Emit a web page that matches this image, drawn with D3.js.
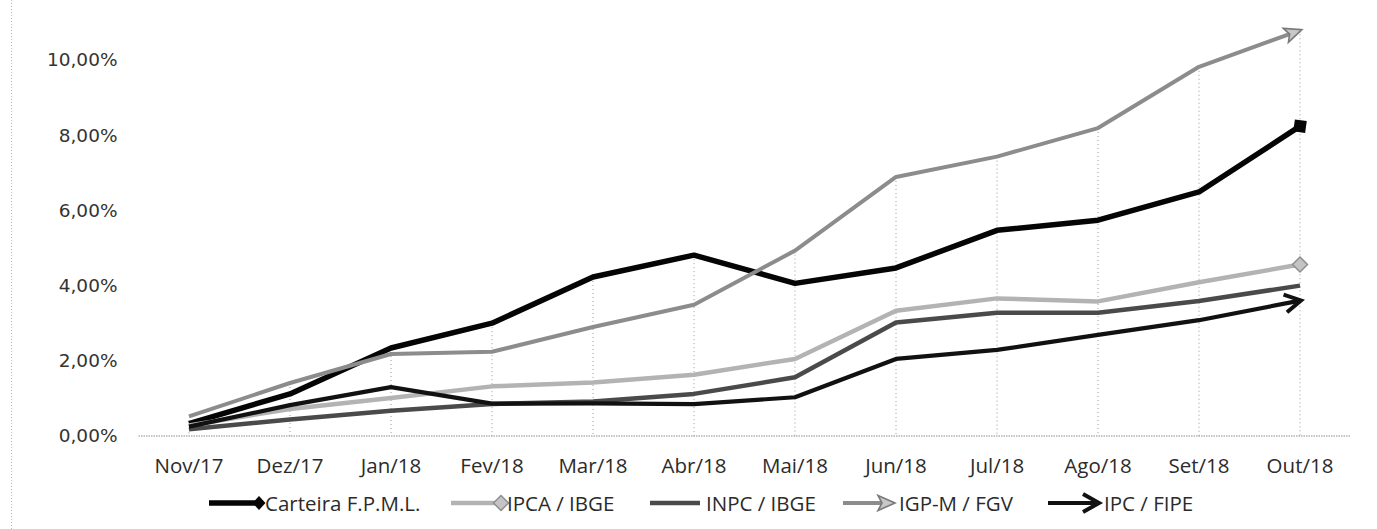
<!DOCTYPE html>
<html>
<head>
<meta charset="utf-8">
<script src="https://cdn.jsdelivr.net/npm/d3@7"></script>
<style>
  html, body { margin: 0; padding: 0; background: #fff; }
  svg { display: block; }
</style>
</head>
<body>
<svg id="chart" width="1377" height="529"></svg>
<script>
// ---- Data (cumulative %) ----
const categories = ["Nov/17","Dez/17","Jan/18","Fev/18","Mar/18","Abr/18","Mai/18","Jun/18","Jul/18","Ago/18","Set/18","Out/18"];
const carteira = [0.33, 1.12, 2.34, 3.00, 4.23, 4.81, 4.06, 4.47, 5.47, 5.74, 6.49, 8.24];
const ipca     = [0.28, 0.72, 1.01, 1.32, 1.42, 1.63, 2.05, 3.33, 3.66, 3.58, 4.09, 4.56];
const inpc     = [0.18, 0.44, 0.67, 0.85, 0.92, 1.12, 1.56, 3.02, 3.28, 3.28, 3.59, 4.00];
const igpm     = [0.52, 1.41, 2.18, 2.24, 2.90, 3.49, 4.93, 6.89, 7.43, 8.19, 9.82, 10.79];
const ipcFipe  = [0.25, 0.82, 1.30, 0.86, 0.87, 0.85, 1.03, 2.05, 2.29, 2.69, 3.08, 3.60];
const seriesNames = ["Carteira F.P.M.L.", "IPCA / IBGE", "INPC / IBGE", "IGP-M / FGV", "IPC / FIPE"];
const yTicks = [0, 2, 4, 6, 8, 10];

// ---- Styles ----
const seriesStyle = [
  { color: "#050505", width: 5.5, end: "square" },
  { color: "#b3b3b3", width: 4.5, end: "diamond" },
  { color: "#4a4a4a", width: 4.5, end: "none" },
  { color: "#8c8c8c", width: 4,   end: "triangle" },
  { color: "#111111", width: 4.2, end: "chevron" }
];
const seriesData = [carteira, ipca, inpc, igpm, ipcFipe];
const labelFont = "'Open Sans', Lato, sans-serif";

const svg = d3.select("#chart");
const W = 1377, H = 529;

// scales
const x = d3.scaleBand().domain(categories).range([138.5, 1350.5]).padding(0);
const cx = c => x(c) + x.bandwidth() / 2;
const y = d3.scaleLinear().domain([0, 10]).range([436, 60]);

// left chart border (dotted)
svg.append("line")
  .attr("x1", 11.5).attr("x2", 11.5).attr("y1", 0).attr("y2", H)
  .attr("stroke", "#b8b8b8").attr("stroke-width", 1).attr("stroke-dasharray", "1,2");

// drop lines (from highest series to axis)
const dropG = svg.append("g");
categories.forEach((c, i) => {
  const maxV = d3.max(seriesData, s => s[i]);
  dropG.append("line")
    .attr("x1", cx(c)).attr("x2", cx(c))
    .attr("y1", y(maxV) + 4).attr("y2", y(0))
    .attr("stroke", "#9a9a9a").attr("stroke-width", 1).attr("stroke-dasharray", "1,3");
});

// baseline (dotted)
svg.append("line")
  .attr("x1", x.range()[0]).attr("x2", x.range()[1])
  .attr("y1", y(0)).attr("y2", y(0))
  .attr("stroke", "#8a8a8a").attr("stroke-width", 1.2).attr("stroke-dasharray", "1.5,1");

// y axis
const fmt = v => d3.format(".2f")(v).replace(".", ",") + "%";
const yAxis = d3.axisLeft(y).tickValues(yTicks).tickFormat(fmt).tickSize(0).tickPadding(21);
const yg = svg.append("g").attr("transform", `translate(${x.range()[0]},0)`).call(yAxis);
yg.select(".domain").remove();
yg.selectAll("text")
  .attr("font-family", "'DejaVu Sans', Verdana, sans-serif")
  .attr("font-size", "18.5px").attr("font-weight", 400).attr("fill", "#333");

// x axis
const xAxis = d3.axisBottom(x).tickSize(0).tickPadding(22);
const xg = svg.append("g").attr("transform", `translate(0,${y(0)})`).call(xAxis);
xg.select(".domain").remove();
xg.selectAll("text")
  .attr("font-family", labelFont)
  .attr("font-size", "20.5px").attr("font-weight", 400).attr("fill", "#2b2b2b");

// end marker drawing helper
function drawEnd(g, type, px, py, angle, st) {
  const t = g.append("g").attr("transform", `translate(${px},${py}) rotate(${angle})`);
  if (type === "square") {
    t.append("rect").attr("x", -6).attr("y", -6).attr("width", 12).attr("height", 12)
      .attr("fill", st.color).attr("transform", "rotate(" + (-angle + 8) + ")");
  } else if (type === "diamond") {
    t.append("path").attr("d", "M0,-7.5 L7.5,0 L0,7.5 L-7.5,0 Z")
      .attr("transform", "rotate(" + (-angle) + ")")
      .attr("fill", "#c4c4c4").attr("stroke", "#8f8f8f").attr("stroke-width", 1.5);
  } else if (type === "triangle") {
    t.append("path").attr("d", "M-15,-7.5 L2,0 L-15,7.5 L-11,0 Z")
      .attr("fill", "#c8c8c8").attr("stroke", "#7a7a7a").attr("stroke-width", 1.6)
      .attr("stroke-linejoin", "miter");
  } else if (type === "chevron") {
    t.append("path").attr("d", "M-15,-9 L1,0 L-15,9")
      .attr("fill", "none").attr("stroke", st.color).attr("stroke-width", 4)
      .attr("stroke-linejoin", "miter");
  }
}

// lines
const line = d3.line().x((d, i) => cx(categories[i])).y(d => y(d));
const linesG = svg.append("g");
seriesData.forEach((s, k) => {
  const st = seriesStyle[k];
  linesG.append("path")
    .attr("d", line(s))
    .attr("fill", "none")
    .attr("stroke", st.color)
    .attr("stroke-width", st.width)
    .attr("stroke-linejoin", "round")
    .attr("stroke-linecap", "butt");
  const n = s.length;
  const x1 = cx(categories[n - 2]), y1 = y(s[n - 2]);
  const x2 = cx(categories[n - 1]), y2 = y(s[n - 1]);
  const ang = Math.atan2(y2 - y1, x2 - x1) * 180 / Math.PI;
  drawEnd(linesG, st.end, x2, y2, ang, st);
});

// legend
const legendStarts = [209, 451, 650, 843, 1048];
const legendSym = 50;
const legendY = 503;
const lg = svg.append("g");
seriesNames.forEach((name, k) => {
  const st = seriesStyle[k];
  const x0 = legendStarts[k];
  lg.append("line")
    .attr("x1", x0).attr("x2", x0 + legendSym)
    .attr("y1", legendY).attr("y2", legendY)
    .attr("stroke", st.color).attr("stroke-width", st.width);
  let legEnd = st.end;
  if (k === 0) legEnd = "legdiamond";
  if (legEnd === "legdiamond") {
    lg.append("path").attr("d", `M${x0 + legendSym},${legendY - 7} L${x0 + legendSym + 6.5},${legendY} L${x0 + legendSym},${legendY + 7} L${x0 + legendSym - 6.5},${legendY} Z`)
      .attr("fill", st.color);
  } else if (legEnd !== "none") {
    drawEnd(lg, legEnd, x0 + legendSym, legendY, 0, st);
  }
  lg.append("text")
    .attr("x", x0 + legendSym + 6)
    .attr("y", legendY + 7.5)
    .attr("font-family", labelFont)
    .attr("font-size", "20.5px").attr("font-weight", 400).attr("fill", "#2b2b2b")
    .text(name);
});
</script>
</body>
</html>
